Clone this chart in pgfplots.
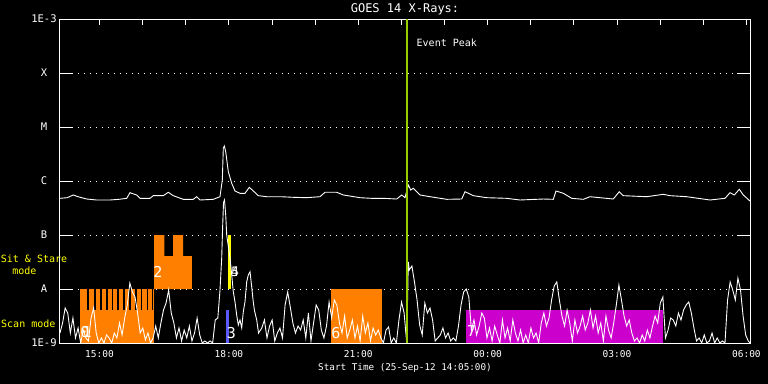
\documentclass[border=0pt]{standalone}
\usepackage{pgfplots}
\pgfplotsset{compat=1.18}
\usepackage{fontspec}
\setmainfont{DejaVu Sans Mono}
\definecolor{goesorange}{RGB}{255,128,0}
\definecolor{goesmag}{RGB}{204,0,204}
\definecolor{goesblue}{RGB}{90,90,255}
\definecolor{goesyellow}{RGB}{255,255,0}
\definecolor{peakgreen}{RGB}{153,204,0}
\begin{document}
\begin{tikzpicture}
\fill[black] (-60bp,-41bp) rectangle (708bp,343bp);
\begin{axis}[
  at={(0,0)}, anchor=south west,
  scale only axis, width=690bp, height=324bp,
  xmin=14.0833, xmax=30.0833,
  ymode=log, ymin=1e-9, ymax=1e-3,
  axis line style={white, line width=1bp},
  xtick={15,16,...,30},
  xticklabels={15:00,,,18:00,,,21:00,,,00:00,,,03:00,,,06:00},
  xtick pos=right, xticklabel pos=left,
  ytick={1e-9,1e-8,1e-7,1e-6,1e-5,1e-4,1e-3},
  yticklabels={1E-9,A,B,C,M,X,1E-3},
  ytick pos=both, yticklabel pos=left,
  yminorticks=false, xminorticks=false,
  tick align=inside,
  xtick style={white, line width=1bp, /pgfplots/major tick length=6bp},
  ytick style={white, line width=1bp, /pgfplots/major tick length=13bp},
  ymajorgrids=true,
  major grid style={white, line width=1bp, dash pattern=on 1bp off 5bp},
  tick label style={white, font=\fontsize{9.5bp}{11bp}\selectfont},
  yticklabel style={anchor=center, xshift=-16bp, font=\fontsize{10.5bp}{12bp}\selectfont},
  xticklabel style={yshift=-4bp},
  title={GOES 14 X-Rays:},
  every axis title/.style={at={(0.5,1.029)}, anchor=center, white, font=\fontsize{12bp}{14bp}\selectfont},
  xlabel={Start Time (25-Sep-12 14:05:00)},
  every axis x label/.style={at={(0.5,-0.0772)}, anchor=center, white, font=\fontsize{9.3bp}{11bp}\selectfont},
]
% --- observation blocks ---
\addplot[fill=goesorange, draw=none] coordinates {(14.547,1e-9)(14.547,4.08e-9)(16.270,4.08e-9)(16.270,1e-9)};
\addplot[fill=goesorange, draw=none] coordinates {(14.547,4.08e-9)(14.547,1e-8)(14.716,1e-8)(14.716,4.08e-9)};
\addplot[fill=goesorange, draw=none] coordinates {(14.763,4.08e-9)(14.763,1e-8)(14.879,1e-8)(14.879,4.08e-9)};
\addplot[fill=goesorange, draw=none] coordinates {(14.918,4.08e-9)(14.918,1e-8)(15.011,1e-8)(15.011,4.08e-9)};
\addplot[fill=goesorange, draw=none] coordinates {(15.050,4.08e-9)(15.050,1e-8)(15.150,1e-8)(15.150,4.08e-9)};
\addplot[fill=goesorange, draw=none] coordinates {(15.189,4.08e-9)(15.189,1e-8)(15.282,1e-8)(15.282,4.08e-9)};
\addplot[fill=goesorange, draw=none] coordinates {(15.319,4.08e-9)(15.319,1e-8)(15.412,1e-8)(15.412,4.08e-9)};
\addplot[fill=goesorange, draw=none] coordinates {(15.451,4.08e-9)(15.451,1e-8)(15.551,1e-8)(15.551,4.08e-9)};
\addplot[fill=goesorange, draw=none] coordinates {(15.590,4.08e-9)(15.590,1e-8)(15.690,1e-8)(15.690,4.08e-9)};
\addplot[fill=goesorange, draw=none] coordinates {(15.723,4.08e-9)(15.723,1e-8)(15.822,1e-8)(15.822,4.08e-9)};
\addplot[fill=goesorange, draw=none] coordinates {(15.862,4.08e-9)(15.862,1e-8)(15.955,1e-8)(15.955,4.08e-9)};
\addplot[fill=goesorange, draw=none] coordinates {(15.992,4.08e-9)(15.992,1e-8)(16.094,1e-8)(16.094,4.08e-9)};
\addplot[fill=goesorange, draw=none] coordinates {(16.131,4.08e-9)(16.131,1e-8)(16.210,1e-8)(16.210,4.08e-9)};
\addplot[fill=goesorange, draw=none] coordinates {(16.233,4.08e-9)(16.233,1e-8)(16.270,1e-8)(16.270,4.08e-9)};
\addplot[fill=goesorange, draw=none] coordinates {(16.263,1e-8)(16.263,1e-7)(16.506,1e-7)(16.506,4.08e-8)(16.704,4.08e-8)(16.704,1e-7)(16.940,1e-7)(16.940,4.08e-8)(17.144,4.08e-8)(17.144,1e-8)};
\addplot[fill=goesyellow, draw=none] coordinates {(17.972,1e-8)(17.972,1e-7)(18.045,1e-7)(18.045,1e-8)};
\addplot[fill=goesblue, draw=none] coordinates {(17.933,1e-9)(17.933,4.08e-9)(18.008,4.08e-9)(18.008,1e-9)};
\addplot[fill=goesorange, draw=none] coordinates {(20.367,1e-9)(20.367,1e-8)(21.550,1e-8)(21.550,1e-9)};
\addplot[fill=goesmag, draw=none] coordinates {(23.498,1e-9)(23.498,4.08e-9)(28.059,4.08e-9)(28.059,1e-9)};
% --- long channel ---
\addplot[white, line width=0.9bp, mark=none] table {
t v
14.083 4.78e-7
14.250 4.91e-7
14.392 5.51e-7
14.500 5.12e-7
14.702 4.64e-7
14.934 4.45e-7
15.243 4.45e-7
15.450 4.58e-7
15.630 4.78e-7
15.706 6.07e-7
15.862 5.51e-7
15.938 4.78e-7
16.170 4.78e-7
16.247 5.35e-7
16.479 5.35e-7
16.594 6.18e-7
16.710 5.35e-7
16.942 4.58e-7
17.174 4.58e-7
17.253 5.12e-7
17.330 4.45e-7
17.638 4.58e-7
17.793 5.12e-7
17.847 1.04e-6
17.870 4.03e-6
17.893 4.45e-6
17.926 3.49e-6
17.986 1.49e-6
18.065 9.06e-7
18.141 6.53e-7
18.257 5.92e-7
18.373 5.92e-7
18.473 7.64e-7
18.566 6.53e-7
18.682 5.35e-7
18.876 5.12e-7
19.200 5.12e-7
19.493 4.99e-7
19.800 4.91e-7
20.112 5.12e-7
20.228 6.18e-7
20.500 6.18e-7
20.653 5.51e-7
21.040 4.91e-7
21.300 4.78e-7
21.581 4.78e-7
21.891 4.64e-7
22.007 5.51e-7
22.083 4.91e-7
22.160 8.43e-7
22.216 6.81e-7
22.276 7.33e-7
22.431 5.51e-7
22.663 5.12e-7
23.050 4.58e-7
23.398 4.64e-7
23.475 6.34e-7
23.667 5.35e-7
23.978 4.91e-7
24.441 4.78e-7
24.750 4.45e-7
25.291 4.64e-7
25.522 4.58e-7
25.585 6.53e-7
25.754 5.92e-7
25.949 4.78e-7
26.218 4.58e-7
26.373 5.12e-7
26.913 4.64e-7
27.052 6.34e-7
27.145 5.35e-7
27.688 5.12e-7
28.073 5.67e-7
28.228 5.35e-7
28.616 5.12e-7
29.156 4.45e-7
29.504 4.78e-7
29.620 6.07e-7
29.720 5.51e-7
29.835 7.02e-7
29.928 5.51e-7
30.083 4.26e-7
};
% --- short channel ---
\addplot[white, line width=0.9bp, mark=none] table {
t v
14.083 1.53e-9
14.143 2.35e-9
14.203 4.45e-9
14.263 3.59e-9
14.323 1.53e-9
14.383 2.90e-9
14.443 1.24e-9
14.503 1.90e-9
14.563 1.0e-9
14.623 1.74e-9
14.683 1.24e-9
14.743 1.09e-9
14.803 2.90e-9
14.863 4.45e-9
14.923 1.53e-9
14.983 1.0e-9
15.043 1.24e-9
15.103 1.0e-9
15.163 1.41e-9
15.223 1.24e-9
15.283 1.0e-9
15.343 1.53e-9
15.403 1.24e-9
15.463 2.35e-9
15.523 1.41e-9
15.583 2.90e-9
15.643 5.06e-9
15.703 1.29e-8
15.763 8.80e-9
15.823 7.11e-9
15.883 3.59e-9
15.943 1.53e-9
16.003 1.90e-9
16.063 1.14e-9
16.123 1.53e-9
16.183 1.0e-9
16.243 1.24e-9
16.303 2.06e-9
16.363 1.24e-9
16.423 2.35e-9
16.483 4.08e-9
16.543 5.50e-9
16.603 9.6e-9
16.663 3.59e-9
16.723 2.35e-9
16.783 1.24e-9
16.843 1.90e-9
16.903 1.09e-9
16.963 1.74e-9
17.023 1.24e-9
17.083 2.06e-9
17.143 1.09e-9
17.203 1.53e-9
17.263 2.90e-9
17.323 1.41e-9
17.383 1.0e-9
17.443 1.09e-9
17.503 1.0e-9
17.563 1.09e-9
17.623 1.0e-9
17.683 2.67e-9
17.743 2.90e-9
17.793 9.5e-9
17.833 3.75e-8
17.856 1.53e-7
17.875 4.0e-7
17.898 4.45e-7
17.926 2.35e-7
17.949 1.0e-7
18.025 3.75e-8
18.065 1.82e-8
18.102 8.9e-9
18.141 5.8e-9
18.180 3.3e-9
18.218 2.15e-9
18.257 2.67e-9
18.297 1.9e-9
18.334 3.8e-9
18.373 5.8e-9
18.413 1.37e-8
18.450 1.82e-8
18.490 2.09e-8
18.529 1.09e-8
18.560 6.26e-9
18.590 4.08e-9
18.645 2.67e-9
18.687 1.53e-9
18.763 1.90e-9
18.823 2.67e-9
18.883 1.24e-9
18.943 2.06e-9
19.003 2.67e-9
19.063 1.09e-9
19.123 1.53e-9
19.183 1.90e-9
19.243 1.24e-9
19.303 5.06e-9
19.363 8.80e-9
19.423 4.64e-9
19.483 2.35e-9
19.543 1.53e-9
19.603 2.06e-9
19.663 1.74e-9
19.723 2.67e-9
19.783 1.24e-9
19.843 3.59e-9
19.903 1.09e-9
19.963 2.35e-9
20.023 5.06e-9
20.083 4.08e-9
20.143 1.74e-9
20.203 1.24e-9
20.263 2.06e-9
20.323 5.74e-9
20.383 2.90e-9
20.443 6.26e-9
20.503 5.06e-9
20.563 2.35e-9
20.623 1.53e-9
20.683 3.16e-9
20.743 1.24e-9
20.803 1.74e-9
20.863 2.67e-9
20.923 1.24e-9
20.983 2.06e-9
21.043 1.09e-9
21.103 3.16e-9
21.163 1.53e-9
21.223 2.35e-9
21.283 1.09e-9
21.343 1.90e-9
21.403 1.41e-9
21.463 1.74e-9
21.523 1.24e-9
21.583 1.0e-9
21.643 1.74e-9
21.703 1.98e-9
21.763 1.0e-9
21.823 1.24e-9
21.883 1.0e-9
21.943 2.67e-9
22.003 5.74e-9
22.063 3.59e-9
22.123 1.0e-9
22.160 3.16e-8
22.183 2.25e-8
22.243 2.67e-8
22.303 1.35e-8
22.363 6.26e-9
22.423 2.15e-9
22.483 1.41e-9
22.543 5.50e-9
22.603 3.59e-9
22.663 4.45e-9
22.723 2.67e-9
22.783 1.09e-9
22.843 1.24e-9
22.903 1.41e-9
22.963 1.90e-9
23.023 1.24e-9
23.083 1.53e-9
23.143 1.09e-9
23.203 1.24e-9
23.263 1.09e-9
23.323 2.06e-9
23.383 5.06e-9
23.443 8.80e-9
23.503 1.0e-8
23.563 7.11e-9
23.623 1.74e-9
23.683 2.67e-9
23.743 1.41e-9
23.803 2.06e-9
23.863 3.59e-9
23.923 2.90e-9
23.983 1.24e-9
24.043 1.90e-9
24.103 1.09e-9
24.163 2.06e-9
24.223 1.41e-9
24.283 1.0e-9
24.343 2.67e-9
24.403 1.24e-9
24.463 1.90e-9
24.523 1.09e-9
24.583 2.67e-9
24.643 1.53e-9
24.703 1.09e-9
24.763 1.74e-9
24.823 1.0e-9
24.883 1.41e-9
24.943 1.0e-9
25.003 1.90e-9
25.063 1.24e-9
25.123 1.53e-9
25.183 1.0e-9
25.243 2.35e-9
25.303 3.59e-9
25.363 2.06e-9
25.423 2.90e-9
25.483 6.26e-9
25.543 1.14e-8
25.603 1.35e-8
25.663 6.26e-9
25.723 3.16e-9
25.783 2.06e-9
25.843 4.08e-9
25.903 2.35e-9
25.963 1.09e-9
26.023 2.67e-9
26.083 1.53e-9
26.143 2.06e-9
26.203 3.16e-9
26.263 1.74e-9
26.323 2.35e-9
26.383 4.08e-9
26.443 1.90e-9
26.503 3.16e-9
26.563 1.53e-9
26.623 2.35e-9
26.683 1.09e-9
26.743 3.16e-9
26.803 1.74e-9
26.863 1.24e-9
26.923 2.35e-9
26.983 5.06e-9
27.043 1.18e-8
27.103 6.26e-9
27.163 3.16e-9
27.223 2.06e-9
27.283 2.67e-9
27.343 1.53e-9
27.403 1.09e-9
27.463 1.24e-9
27.523 1.0e-9
27.583 1.41e-9
27.643 1.09e-9
27.703 1.74e-9
27.763 1.24e-9
27.823 2.06e-9
27.883 3.16e-9
27.943 2.35e-9
28.003 5.50e-9
28.063 7.11e-9
28.123 1.24e-9
28.183 1.74e-9
28.243 2.90e-9
28.303 2.67e-9
28.363 2.06e-9
28.423 3.59e-9
28.483 2.67e-9
28.543 4.08e-9
28.603 5.06e-9
28.663 5.74e-9
28.723 3.59e-9
28.783 1.90e-9
28.843 1.09e-9
28.903 1.24e-9
28.963 1.0e-9
29.023 1.41e-9
29.083 1.0e-9
29.143 1.09e-9
29.203 1.53e-9
29.263 1.0e-9
29.323 1.24e-9
29.383 1.0e-9
29.443 1.09e-9
29.503 1.0e-9
29.563 6.26e-9
29.623 1.35e-8
29.683 9.6e-9
29.743 6.26e-9
29.803 1.59e-8
29.863 9.6e-9
29.923 3.16e-9
29.983 1.41e-9
30.043 1.09e-9
30.083 1.0e-9
};
% --- event peak ---
\addplot[peakgreen, line width=2bp, mark=none] coordinates {(22.123,1e-9)(22.123,1e-3)};
\node[white, anchor=west, inner sep=0pt, font=\fontsize{10bp}{12bp}\selectfont] at (axis cs:22.35,3.6e-4) {Event Peak};
% --- OBS numbers ---
\node[white, inner sep=0pt, font=\fontsize{15bp}{16bp}\selectfont] at (axis cs:14.66,1.6e-9) {0};
\node[white, inner sep=0pt, font=\fontsize{15bp}{16bp}\selectfont] at (axis cs:14.71,1.6e-9) {1};
\node[white, inner sep=0pt, font=\fontsize{15bp}{16bp}\selectfont] at (axis cs:16.355,2.06e-8) {2};
\node[white, inner sep=0pt, font=\fontsize{15bp}{16bp}\selectfont] at (axis cs:18.055,1.56e-9) {3};
\node[white, inner sep=0pt, font=\fontsize{13bp}{14bp}\selectfont] at (axis cs:18.14,2.06e-8) {4};
\node[white, inner sep=0pt, font=\fontsize{13bp}{14bp}\selectfont] at (axis cs:18.14,2.06e-8) {5};
\node[white, inner sep=0pt, font=\fontsize{15bp}{16bp}\selectfont] at (axis cs:20.478,1.56e-9) {6};
\node[white, inner sep=0pt, font=\fontsize{15bp}{16bp}\selectfont] at (axis cs:23.63,1.67e-9) {7};
\end{axis}
\node[goesyellow, inner sep=0pt, font=\fontsize{10bp}{12bp}\selectfont] at (-26bp,84.3bp) {Sit \& Stare};
\node[goesyellow, inner sep=0pt, font=\fontsize{10bp}{12bp}\selectfont] at (-35.7bp,72.3bp) {mode};
\node[goesyellow, inner sep=0pt, font=\fontsize{10bp}{12bp}\selectfont] at (-31.7bp,19.7bp) {Scan mode};
\end{tikzpicture}
\end{document}
